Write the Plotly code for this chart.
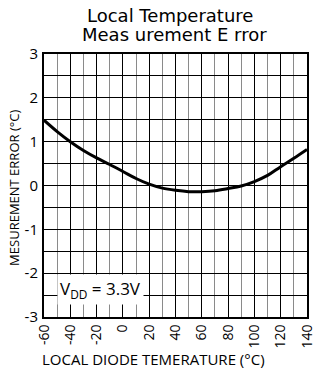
import plotly.graph_objects as go

temps = [-60, -50, -40, -30, -20, -10, 0, 10, 20, 30, 40, 50, 60, 70, 80, 90, 100, 110, 120, 130, 140]
errors = [1.49, 1.23, 1.00, 0.80, 0.63, 0.48, 0.32, 0.16, 0.03, -0.06, -0.11, -0.14, -0.14, -0.12, -0.07, -0.01, 0.09, 0.23, 0.43, 0.62, 0.82]
x_ticks = [-60, -40, -20, 0, 20, 40, 60, 80, 100, 120, 140]
y_ticks = [-3, -2, -1, 0, 1, 2, 3]
title_lines = ["Local Temperature", "Meas urement E rror"]

FONT = "Open Sans"

fig = go.Figure()
fig.add_trace(go.Scatter(x=temps, y=errors, mode="lines",
                         line=dict(color="black", width=3, shape="spline"),
                         showlegend=False, hoverinfo="skip"))

fig.update_layout(
    width=315, height=376, autosize=False,
    margin=dict(l=44, r=8, t=54, b=59, autoexpand=False),
    paper_bgcolor="white", plot_bgcolor="white",
    font=dict(family=FONT, color="black", size=14),
    xaxis=dict(range=[-60, 140], tickvals=x_ticks, ticktext=[str(v) for v in x_ticks],
               tickangle=-90, showgrid=True, gridcolor="black", gridwidth=1.3,
               minor=dict(dtick=10, tick0=-60, showgrid=True, gridcolor="#8a8a8a", gridwidth=1.3),
               showline=True, linecolor="black", linewidth=2, mirror=True,
               ticks="", zeroline=False, tickfont=dict(size=14, family=FONT),
               ticklabelstandoff=0, automargin=False, ticklabeloverflow="allow"),
    yaxis=dict(range=[-3, 3], tickvals=y_ticks, ticktext=[str(v) for v in y_ticks],
               showgrid=True, gridcolor="black", gridwidth=1.3,
               minor=dict(dtick=0.5, tick0=-3, showgrid=True, gridcolor="black", gridwidth=1.3),
               showline=True, linecolor="black", linewidth=2, mirror=True,
               ticks="", zeroline=False, tickfont=dict(size=15, family=FONT),
               ticklabelstandoff=1, automargin=False, ticklabeloverflow="allow"),
)

for i, line in enumerate(title_lines):
    fig.add_annotation(text=line, xref="paper", yref="paper",
                       x=[0.479, 0.498][i], y=[1.148, 1.076][i], showarrow=False,
                       xanchor="center", yanchor="middle",
                       font=dict(family="DejaVu Sans", size=18, color="black"))

fig.add_annotation(text="MESUREMENT ERROR (°C)", xref="paper", yref="paper",
                   x=-0.115, y=0.49, textangle=-90, showarrow=False,
                   xanchor="center", yanchor="middle",
                   font=dict(family=FONT, size=13, color="black"))
fig.add_annotation(text="LOCAL DIODE TEMERATURE (°C)", xref="paper", yref="paper",
                   x=0.418, y=-0.158, showarrow=False,
                   xanchor="center", yanchor="middle",
                   font=dict(family=FONT, size=15, color="black"))
fig.add_annotation(text="V<sub>DD</sub> = 3.3V", xref="x", yref="y",
                   x=-50, y=-2.38, xanchor="left", yanchor="middle", showarrow=False,
                   bgcolor="white", borderpad=2,
                   font=dict(family=FONT, size=17, color="black"))

fig.write_html("out.html", config={"displayModeBar": False},
               post_script="document.body.style.margin='0';")
